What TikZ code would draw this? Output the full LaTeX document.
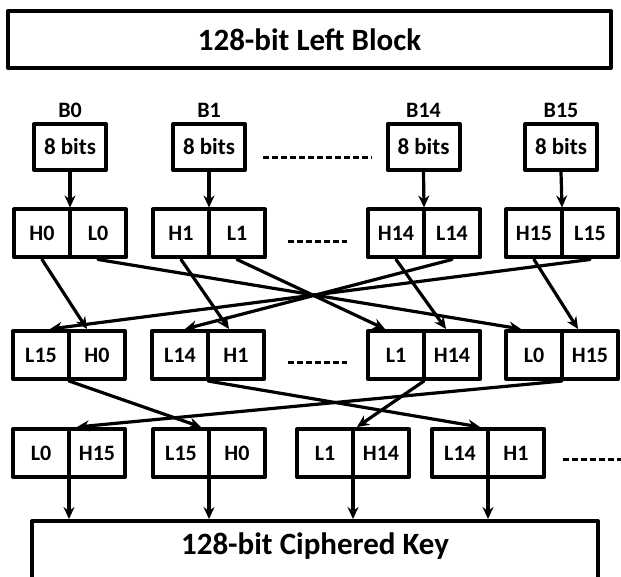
\documentclass[tikz,border=0pt]{standalone}
\usepackage{fontspec}
\setmainfont{Carlito}
\usetikzlibrary{arrows.meta}
\tikzset{
	block/.style={draw, line width=4pt, minimum height=57pt, inner sep=0pt, font={\fontsize{31pt}{31pt}\selectfont\bfseries}},
	byte/.style={draw, line width=4pt, minimum width=72pt, minimum height=46pt, inner sep=0pt, font={\fontsize{23pt}{23pt}\selectfont\bfseries}},
	cell/.style={draw, line width=4pt, minimum width=56pt, minimum height=48pt, inner sep=0pt, outer xsep=0pt, font={\fontsize{22pt}{22pt}\selectfont\bfseries}},
	tag/.style={font={\fontsize{22pt}{22pt}\selectfont\bfseries}},
	gap/.style={line width=3pt, line cap=butt, dash pattern=on 6pt off 3pt}
}
\begin{document}
\begin{tikzpicture}[x=1pt, y=-1pt, line width=3.2pt, line join=round, line cap=round, >={Stealth[length=12pt,width=11pt]}]
	\useasboundingbox (0,0) rectangle (621,577);
	% Khoi tren va khoi duoi
	\node[block, minimum width=603pt] (left) at (309.5,39.5) {128-bit Left Block};
	\node[block, minimum width=566pt, minimum height=58pt, text height=22pt, text depth=14pt] (key) at (315,550) {128-bit Ciphered Key};
	% Cac byte
	\node[tag] (tag0) at (70,110) {B0};
	\node[tag] (tag1) at (209,110) {B1};
	\node[tag] (tag14) at (423.5,110) {B14};
	\node[tag] (tag15) at (561,110) {B15};
	\node[byte] (byte0) at (70,147) {8 bits};
	\node[byte] (byte1) at (209,147) {8 bits};
	\node[byte] (byte14) at (423.5,147) {8 bits};
	\node[byte] (byte15) at (561,147) {8 bits};
	\draw[gap] (263,158) -- (372,158);
	% Hang 1
	\node[cell] (sH0) at (42,233.5) {H0};
	\node[cell] (sL0) at (98,233.5) {L0};
	\node[cell] (sH1) at (181,233.5) {H1};
	\node[cell] (sL1) at (237,233.5) {L1};
	\node[cell] (sH14) at (396,233.5) {H14};
	\node[cell] (sL14) at (452,233.5) {L14};
	\node[cell] (sH15) at (534,233.5) {H15};
	\node[cell] (sL15) at (590,233.5) {L15};
	\draw[gap] (288,242) -- (347,242);
	% Hang 2
	\node[cell] (wL15) at (41,355) {L15};
	\node[cell] (wH0) at (97,355) {H0};
	\node[cell] (wL14) at (180,355) {L14};
	\node[cell] (wH1) at (236,355) {H1};
	\node[cell] (wL1) at (396,355) {L1};
	\node[cell] (wH14) at (452,355) {H14};
	\node[cell] (wL0) at (534,355) {L0};
	\node[cell] (wH15) at (590,355) {H15};
	\draw[gap] (288,362) -- (347,362);
	% Hang 3
	\node[cell] (mL0) at (41,453) {L0};
	\node[cell] (mH15) at (97,453) {H15};
	\node[cell] (mL15) at (181,453) {L15};
	\node[cell] (mH0) at (237,453) {H0};
	\node[cell] (mL1) at (325,453) {L1};
	\node[cell] (mH14) at (381,453) {H14};
	\node[cell] (mL14) at (460,453) {L14};
	\node[cell] (mH1) at (516,453) {H1};
	\draw[gap] (563,459) -- (621,459);
	% Mui ten
	\draw[->] (byte0.south) -- (sH0.north east);
	\draw[->] (byte1.south) -- (sH1.north east);
	\draw[->] (byte14.south) -- (sH14.north east);
	\draw[->] (byte15.south) -- (sH15.north east);
	\draw[->] (sH0.south) -- ([xshift=-10pt]wH0.north);
	\draw[->] (sL0.south) -- ([xshift=-13pt]wL0.north);
	\draw[->] (sH1.south) -- ([xshift=-7pt]wH1.north);
	\draw[->] (sL1.south) -- ([xshift=-11pt]wL1.north);
	\draw[->] (sH14.south) -- ([xshift=-6pt]wH14.north);
	\draw[->] (sL14.south) -- ([xshift=5pt]wL14.north);
	\draw[->] (sH15.south) -- ([xshift=-12pt]wH15.north);
	\draw[->] (sL15.south) -- ([xshift=9pt]wL15.north);
	\draw[->] (wL15.south east) -- ([xshift=-8pt]mL15.north east);
	\draw[->] (wL14.south east) -- ([xshift=-8pt]mL14.north east);
	\draw[->] (wL1.south east) -- ([xshift=4pt]mL1.north east);
	\draw[->] (wL0.south east) -- ([xshift=8pt]mL0.north east);
	\draw[->] (mL0.south east) -- (mL0.south east |- key.north);
	\draw[->] (mL15.south east) -- (mL15.south east |- key.north);
	\draw[->] (mL1.south east) -- (mL1.south east |- key.north);
	\draw[->] (mL14.south east) -- (mL14.south east |- key.north);
\end{tikzpicture}
\end{document}
